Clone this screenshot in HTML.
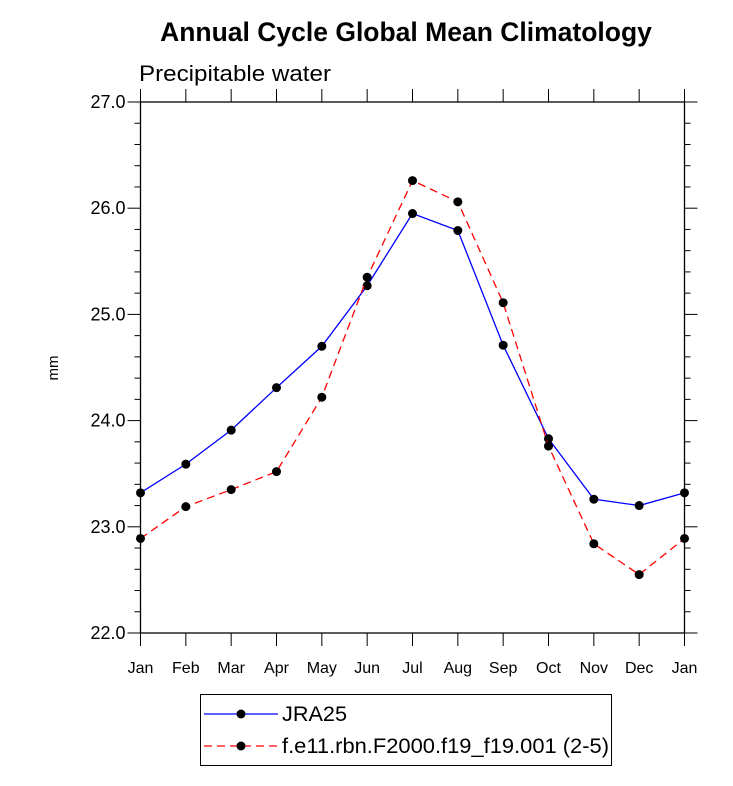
<!DOCTYPE html>
<html><head><meta charset="utf-8"><style>
body{margin:0;background:#fff;}
svg{display:block;font-family:"Liberation Sans",Arial,sans-serif;}
</style></head><body>
<svg id="chart" width="733" height="786" viewBox="0 0 733 786">
<text x="406" y="41" text-anchor="middle" font-size="26.5" font-weight="bold">Annual Cycle Global Mean Climatology</text>
<text x="139" y="81" font-size="22" textLength="192" lengthAdjust="spacingAndGlyphs">Precipitable water</text>
<text transform="translate(58,368) rotate(-90)" text-anchor="middle" font-size="15">mm</text>
<g id="axes"></g>
<g id="series"></g>
<g>
<rect x="200.5" y="694.5" width="411" height="71" fill="#fff" stroke="#000" stroke-width="1"/>
<g>
<line x1="204" y1="714" x2="278" y2="714" stroke="#0000ff" stroke-width="1.3"/>
<circle cx="241" cy="714" r="4.5" fill="#000"/>
<text x="282" y="721" font-size="21" textLength="65" lengthAdjust="spacingAndGlyphs">JRA25</text>
</g>
<g>
<line x1="204" y1="746" x2="278" y2="746" stroke="#ff0000" stroke-width="1.3" stroke-dasharray="8,5"/>
<circle cx="241" cy="746" r="4.5" fill="#000"/>
<text x="282" y="753" font-size="21" textLength="327" lengthAdjust="spacingAndGlyphs">f.e11.rbn.F2000.f19_f19.001 (2-5)</text>
</g>
</g>
</svg>
<script>
const months = ["Jan","Feb","Mar","Apr","May","Jun","Jul","Aug","Sep","Oct","Nov","Dec","Jan"];
const jra25 = [23.32,23.59,23.91,24.31,24.70,25.27,25.95,25.79,24.71,23.83,23.26,23.20,23.32];
const model = [22.89,23.19,23.35,23.52,24.22,25.35,26.26,26.06,25.11,23.76,22.84,22.55,22.89];
const yTicks = [22,23,24,25,26,27];
const yTickLabels = ["22.0","23.0","24.0","25.0","26.0","27.0"];
const L=140.5,R=684.5,T=102,B=633,Y0=22,Y1=27;
const NS="http://www.w3.org/2000/svg";
function xs(i){return L+(R-L)*i/(months.length-1);}
function ys(v){return B-(B-T)*(v-Y0)/(Y1-Y0);}
function mk(tag,at,parent){const e=document.createElementNS(NS,tag);for(const k in at)e.setAttribute(k,at[k]);parent.appendChild(e);return e;}
const ax=document.getElementById('axes');
const frame=mk('rect',{x:L,y:T,width:R-L,height:B-T,fill:'none',stroke:'#000','stroke-width':1.3},ax);


for(let v=Y0;v<=Y1+1e-9;v+=0.2){
  const y=ys(v);const major=Math.abs(v-Math.round(v))<1e-6;const len=major?13:6;
  const t1=mk('line',{x1:L-len,y1:y,x2:L,y2:y,stroke:'#000','stroke-width':1},ax);
  
  
  const t2=mk('line',{x1:R,y1:y,x2:R+len,y2:y,stroke:'#000','stroke-width':1},ax);
  
  
}
yTicks.forEach((v,i)=>{
  const t=mk('text',{x:L-15,y:ys(v)+6,'text-anchor':'end','font-size':18},ax);
  t.textContent=yTickLabels[i];
  
  
});
months.forEach((m,i)=>{
  const x=xs(i);
  const a=mk('line',{x1:x,y1:B,x2:x,y2:B+13,stroke:'#000','stroke-width':1},ax);
  
  
  const b=mk('line',{x1:x,y1:T-13,x2:x,y2:T,stroke:'#000','stroke-width':1},ax);
  
  
  const t=mk('text',{x:x,y:673,'text-anchor':'middle','font-size':16},ax);
  t.textContent=m;
  
  
});
const sg=document.getElementById('series');
function draw(vals,color,dash,name){
  const pts=vals.map((v,i)=>xs(i)+','+ys(v)).join(' ');
  const at={points:pts,fill:'none',stroke:color,'stroke-width':1.3};
  if(dash)at['stroke-dasharray']=dash;
  const pl=mk('polyline',at,sg);
  
  
  vals.forEach((v,i)=>{
    const c=mk('circle',{cx:xs(i),cy:ys(v),r:4.5,fill:'#000'},sg);
    
    
  });
}
draw(jra25,'#0000ff',null,'jra25');
draw(model,'#ff0000','8,5','model');
</script>
</body></html>
